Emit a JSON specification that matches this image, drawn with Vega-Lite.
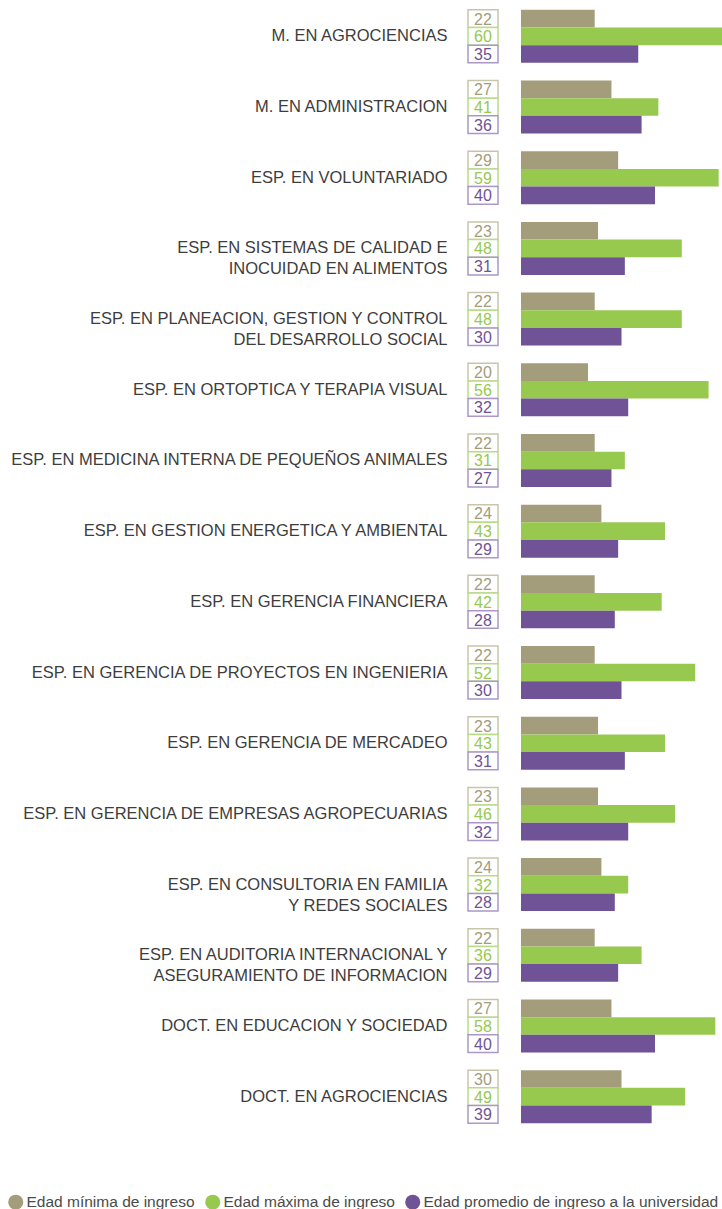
{
  "$schema": "https://vega.github.io/schema/vega-lite/v6.json",
  "background": "white",
  "padding": {"left": 8, "top": 1, "right": 0, "bottom": 0},
  "data": {"values": [
    {"programa": "M. EN AGROCIENCIAS", "serie": "Edad mínima de ingreso", "valor": 22},
    {"programa": "M. EN AGROCIENCIAS", "serie": "Edad máxima de ingreso", "valor": 60},
    {"programa": "M. EN AGROCIENCIAS", "serie": "Edad promedio de ingreso a la universidad", "valor": 35},
    {"programa": "M. EN ADMINISTRACION", "serie": "Edad mínima de ingreso", "valor": 27},
    {"programa": "M. EN ADMINISTRACION", "serie": "Edad máxima de ingreso", "valor": 41},
    {"programa": "M. EN ADMINISTRACION", "serie": "Edad promedio de ingreso a la universidad", "valor": 36},
    {"programa": "ESP. EN VOLUNTARIADO", "serie": "Edad mínima de ingreso", "valor": 29},
    {"programa": "ESP. EN VOLUNTARIADO", "serie": "Edad máxima de ingreso", "valor": 59},
    {"programa": "ESP. EN VOLUNTARIADO", "serie": "Edad promedio de ingreso a la universidad", "valor": 40},
    {"programa": "ESP. EN SISTEMAS DE CALIDAD E|INOCUIDAD EN ALIMENTOS", "serie": "Edad mínima de ingreso", "valor": 23},
    {"programa": "ESP. EN SISTEMAS DE CALIDAD E|INOCUIDAD EN ALIMENTOS", "serie": "Edad máxima de ingreso", "valor": 48},
    {"programa": "ESP. EN SISTEMAS DE CALIDAD E|INOCUIDAD EN ALIMENTOS", "serie": "Edad promedio de ingreso a la universidad", "valor": 31},
    {"programa": "ESP. EN PLANEACION, GESTION Y CONTROL|DEL DESARROLLO SOCIAL", "serie": "Edad mínima de ingreso", "valor": 22},
    {"programa": "ESP. EN PLANEACION, GESTION Y CONTROL|DEL DESARROLLO SOCIAL", "serie": "Edad máxima de ingreso", "valor": 48},
    {"programa": "ESP. EN PLANEACION, GESTION Y CONTROL|DEL DESARROLLO SOCIAL", "serie": "Edad promedio de ingreso a la universidad", "valor": 30},
    {"programa": "ESP. EN ORTOPTICA Y TERAPIA VISUAL", "serie": "Edad mínima de ingreso", "valor": 20},
    {"programa": "ESP. EN ORTOPTICA Y TERAPIA VISUAL", "serie": "Edad máxima de ingreso", "valor": 56},
    {"programa": "ESP. EN ORTOPTICA Y TERAPIA VISUAL", "serie": "Edad promedio de ingreso a la universidad", "valor": 32},
    {"programa": "ESP. EN MEDICINA INTERNA DE PEQUEÑOS ANIMALES", "serie": "Edad mínima de ingreso", "valor": 22},
    {"programa": "ESP. EN MEDICINA INTERNA DE PEQUEÑOS ANIMALES", "serie": "Edad máxima de ingreso", "valor": 31},
    {"programa": "ESP. EN MEDICINA INTERNA DE PEQUEÑOS ANIMALES", "serie": "Edad promedio de ingreso a la universidad", "valor": 27},
    {"programa": "ESP. EN GESTION ENERGETICA Y AMBIENTAL", "serie": "Edad mínima de ingreso", "valor": 24},
    {"programa": "ESP. EN GESTION ENERGETICA Y AMBIENTAL", "serie": "Edad máxima de ingreso", "valor": 43},
    {"programa": "ESP. EN GESTION ENERGETICA Y AMBIENTAL", "serie": "Edad promedio de ingreso a la universidad", "valor": 29},
    {"programa": "ESP. EN GERENCIA FINANCIERA", "serie": "Edad mínima de ingreso", "valor": 22},
    {"programa": "ESP. EN GERENCIA FINANCIERA", "serie": "Edad máxima de ingreso", "valor": 42},
    {"programa": "ESP. EN GERENCIA FINANCIERA", "serie": "Edad promedio de ingreso a la universidad", "valor": 28},
    {"programa": "ESP. EN GERENCIA DE PROYECTOS EN INGENIERIA", "serie": "Edad mínima de ingreso", "valor": 22},
    {"programa": "ESP. EN GERENCIA DE PROYECTOS EN INGENIERIA", "serie": "Edad máxima de ingreso", "valor": 52},
    {"programa": "ESP. EN GERENCIA DE PROYECTOS EN INGENIERIA", "serie": "Edad promedio de ingreso a la universidad", "valor": 30},
    {"programa": "ESP. EN GERENCIA DE MERCADEO", "serie": "Edad mínima de ingreso", "valor": 23},
    {"programa": "ESP. EN GERENCIA DE MERCADEO", "serie": "Edad máxima de ingreso", "valor": 43},
    {"programa": "ESP. EN GERENCIA DE MERCADEO", "serie": "Edad promedio de ingreso a la universidad", "valor": 31},
    {"programa": "ESP. EN GERENCIA DE EMPRESAS AGROPECUARIAS", "serie": "Edad mínima de ingreso", "valor": 23},
    {"programa": "ESP. EN GERENCIA DE EMPRESAS AGROPECUARIAS", "serie": "Edad máxima de ingreso", "valor": 46},
    {"programa": "ESP. EN GERENCIA DE EMPRESAS AGROPECUARIAS", "serie": "Edad promedio de ingreso a la universidad", "valor": 32},
    {"programa": "ESP. EN CONSULTORIA EN FAMILIA|Y REDES SOCIALES", "serie": "Edad mínima de ingreso", "valor": 24},
    {"programa": "ESP. EN CONSULTORIA EN FAMILIA|Y REDES SOCIALES", "serie": "Edad máxima de ingreso", "valor": 32},
    {"programa": "ESP. EN CONSULTORIA EN FAMILIA|Y REDES SOCIALES", "serie": "Edad promedio de ingreso a la universidad", "valor": 28},
    {"programa": "ESP. EN AUDITORIA INTERNACIONAL Y|ASEGURAMIENTO DE INFORMACION", "serie": "Edad mínima de ingreso", "valor": 22},
    {"programa": "ESP. EN AUDITORIA INTERNACIONAL Y|ASEGURAMIENTO DE INFORMACION", "serie": "Edad máxima de ingreso", "valor": 36},
    {"programa": "ESP. EN AUDITORIA INTERNACIONAL Y|ASEGURAMIENTO DE INFORMACION", "serie": "Edad promedio de ingreso a la universidad", "valor": 29},
    {"programa": "DOCT. EN EDUCACION Y SOCIEDAD", "serie": "Edad mínima de ingreso", "valor": 27},
    {"programa": "DOCT. EN EDUCACION Y SOCIEDAD", "serie": "Edad máxima de ingreso", "valor": 58},
    {"programa": "DOCT. EN EDUCACION Y SOCIEDAD", "serie": "Edad promedio de ingreso a la universidad", "valor": 40},
    {"programa": "DOCT. EN AGROCIENCIAS", "serie": "Edad mínima de ingreso", "valor": 30},
    {"programa": "DOCT. EN AGROCIENCIAS", "serie": "Edad máxima de ingreso", "valor": 49},
    {"programa": "DOCT. EN AGROCIENCIAS", "serie": "Edad promedio de ingreso a la universidad", "valor": 39}
  ]},
  "hconcat": [
    {
      "width": 30,
      "height": 1131,
      "encoding": {
        "y": {"field": "programa", "type": "nominal", "sort": null,
              "scale": {"paddingInner": 0.25, "paddingOuter": 0.125},
              "axis": {"title": null, "ticks": false, "domain": false, "labelPadding": 21,
                       "labelExpr": "split(datum.label, '|')", "labelLineHeight": 21,
                       "labelFontSize": 16.5, "labelFont": "Liberation Sans", "labelColor": "#3d3d3d",
                       "labelLimit": 600}},
        "yOffset": {"field": "serie", "type": "nominal",
                    "sort": ["Edad mínima de ingreso", "Edad máxima de ingreso", "Edad promedio de ingreso a la universidad"],
                    "scale": {"paddingInner": 0, "paddingOuter": 0}}
      },
      "layer": [
        {
          "mark": {"type": "rect", "fill": "white", "strokeWidth": 1.5},
          "encoding": {
            "stroke": {"field": "serie", "type": "nominal", "legend": null,
                       "scale": {"domain": ["Edad mínima de ingreso", "Edad máxima de ingreso", "Edad promedio de ingreso a la universidad"],
                                 "range": ["#c9c5ab", "#b7dd88", "#ab98c9"]}}
          }
        },
        {
          "mark": {"type": "text", "fontSize": 16, "font": "Liberation Sans", "baseline": "middle", "dy": 1},
          "encoding": {
            "text": {"field": "valor", "type": "quantitative"},
            "color": {"field": "serie", "type": "nominal"}
          }
        }
      ]
    },
    {
      "width": 201,
      "height": 1131,
      "mark": {"type": "bar"},
      "encoding": {
        "y": {"field": "programa", "type": "nominal", "sort": null,
              "scale": {"paddingInner": 0.25, "paddingOuter": 0.125}, "axis": null},
        "yOffset": {"field": "serie", "type": "nominal",
                    "sort": ["Edad mínima de ingreso", "Edad máxima de ingreso", "Edad promedio de ingreso a la universidad"],
                    "scale": {"paddingInner": 0, "paddingOuter": 0}},
        "x": {"field": "valor", "type": "quantitative", "scale": {"domain": [0, 60], "nice": false}, "axis": null},
        "color": {"field": "serie", "type": "nominal",
                  "scale": {"domain": ["Edad mínima de ingreso", "Edad máxima de ingreso", "Edad promedio de ingreso a la universidad"],
                            "range": ["#a39d7b", "#97c94f", "#6f5396"]},
                  "legend": {"title": null, "orient": "none", "direction": "horizontal", "legendX": -460, "legendY": 1193,
                             "symbolType": "circle", "symbolSize": 225, "symbolStrokeWidth": 0, "symbolOpacity": 1,
                             "labelFontSize": 15.5, "labelFont": "Liberation Sans", "labelColor": "#4a4a4a",
                             "labelOffset": 3, "columnPadding": 10, "labelLimit": 400}}
      }
    }
  ],
  "spacing": 22,
  "resolve": {"scale": {"color": "shared", "stroke": "independent"}, "legend": {"color": "shared", "stroke": "independent"}},
  "config": {"view": {"stroke": null}}
}
